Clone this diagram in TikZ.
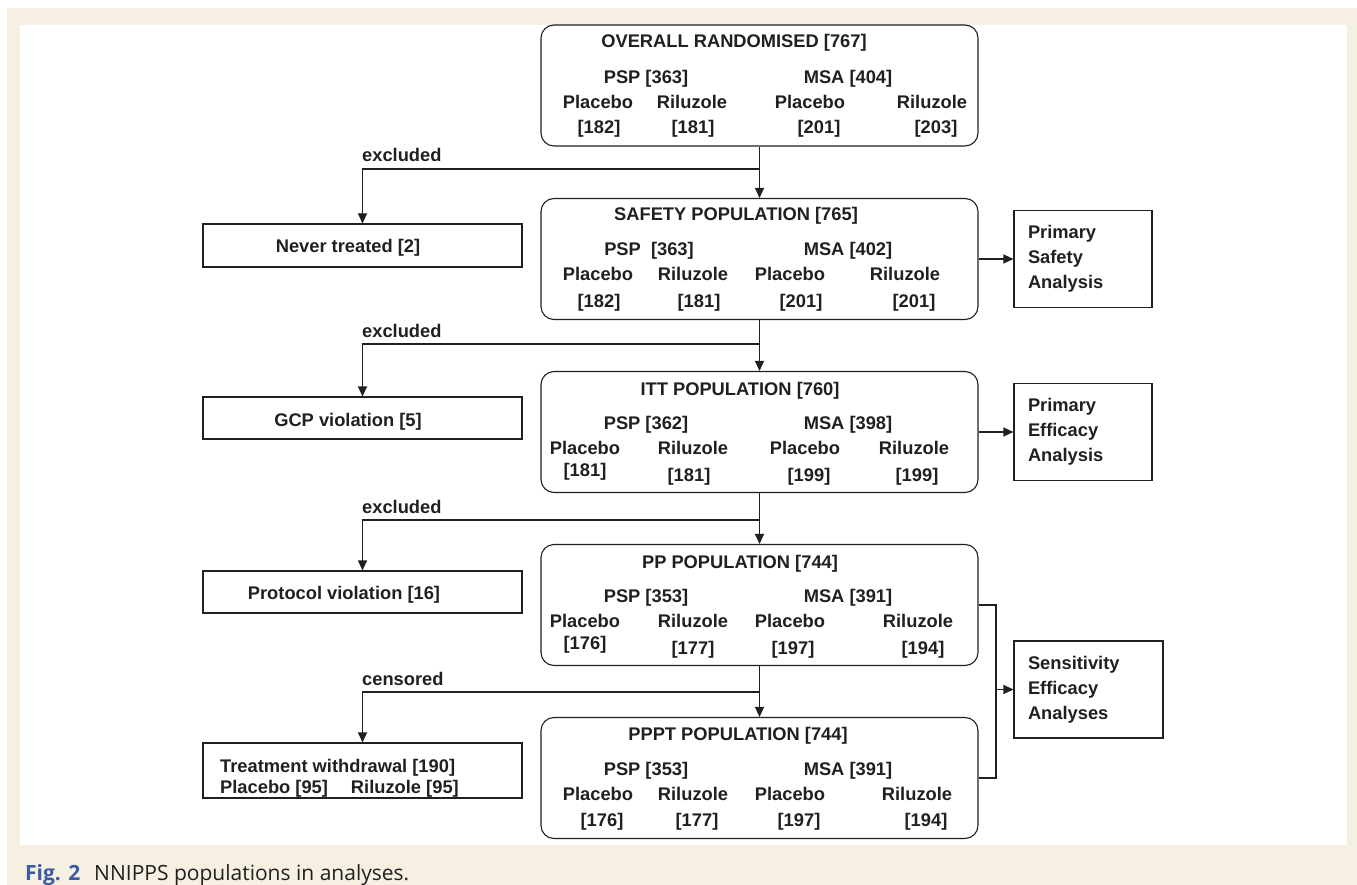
\documentclass[tikz,border=0pt]{standalone}
\usepackage{fontspec}
\setmainfont{Liberation Sans}
\newfontfamily\capfont{Open Sans}
\usetikzlibrary{arrows.meta}
\definecolor{ink}{HTML}{231F20}
\definecolor{paper}{HTML}{F5F0E1}
\definecolor{figblue}{HTML}{3B5BA5}
\tikzstyle{popbox}=[rectangle, draw=ink, rounded corners=13pt, line width=1.1pt, minimum width=437pt, minimum height=121pt]
\tikzstyle{exbox}=[rectangle, draw=ink, line width=1.1pt, minimum width=319pt]
\tikzstyle{anbox}=[rectangle, draw=ink, line width=1.1pt, minimum height=97pt, align=left, inner xsep=14pt, text=ink, font=\fontsize{18.3}{25}\selectfont\bfseries]
\tikzstyle{txt}=[anchor=base, inner sep=0pt, text=ink, font=\fontsize{18.3}{25}\selectfont\bfseries]
\tikzstyle{lab}=[txt, anchor=base west]
\tikzstyle{flow}=[draw=ink, line width=1.1pt, -{Triangle[length=10pt,width=9pt]}]

\begin{document}
\begin{tikzpicture}[x=1pt, y=-1pt]
    \useasboundingbox (0,0) rectangle (1357,885);
    \fill[paper] (7,8) rectangle (1357,885);
    \fill[white] (20,25) rectangle (1347,845);

    \node[popbox] (p1) at (759.5, 85.5) {};
    \node[popbox] (p2) at (759.5, 259) {};
    \node[popbox] (p3) at (759.5, 432) {};
    \node[popbox] (p4) at (759.5, 605) {};
    \node[popbox] (p5) at (759.5, 778) {};

    \node[txt] (t1)  at (734, 48) {OVERALL RANDOMISED [767]};
    \node[txt] (g1a) at (646, 84) {PSP [363]};
    \node[txt] (g1b) at (848, 84) {MSA [404]};
    \node[txt] (a1a) at (598, 109) {Placebo};
    \node[txt] (a1b) at (692, 109) {Riluzole};
    \node[txt] (a1c) at (810, 109) {Placebo};
    \node[txt] (a1d) at (932, 109) {Riluzole};
    \node[txt] (n1a) at (599, 134) {[182]};
    \node[txt] (n1b) at (693, 134) {[181]};
    \node[txt] (n1c) at (819, 134) {[201]};
    \node[txt] (n1d) at (936, 134) {[203]};

    \node[txt] (t2)  at (736, 221) {SAFETY POPULATION [765]};
    \node[txt] (g2a) at (649, 256) {PSP~~[363]};
    \node[txt] (g2b) at (848, 256) {MSA [402]};
    \node[txt] (a2a) at (598, 281) {Placebo};
    \node[txt] (a2b) at (693, 281) {Riluzole};
    \node[txt] (a2c) at (790, 281) {Placebo};
    \node[txt] (a2d) at (905, 281) {Riluzole};
    \node[txt] (n2a) at (599, 308) {[182]};
    \node[txt] (n2b) at (699, 308) {[181]};
    \node[txt] (n2c) at (801, 308) {[201]};
    \node[txt] (n2d) at (914, 308) {[201]};

    \node[txt] (t3)  at (740, 395) {ITT POPULATION [760]};
    \node[txt] (g3a) at (646, 429) {PSP [362]};
    \node[txt] (g3b) at (848, 429) {MSA [398]};
    \node[txt] (a3a) at (585, 454) {Placebo};
    \node[txt] (a3b) at (693, 454) {Riluzole};
    \node[txt] (a3c) at (805, 454) {Placebo};
    \node[txt] (a3d) at (914, 454) {Riluzole};
    \node[txt] (n3a) at (585, 476) {[181]};
    \node[txt] (n3b) at (689, 481) {[181]};
    \node[txt] (n3c) at (809, 481) {[199]};
    \node[txt] (n3d) at (917, 481) {[199]};

    \node[txt] (t4)  at (740, 568) {PP POPULATION [744]};
    \node[txt] (g4a) at (646, 602) {PSP [353]};
    \node[txt] (g4b) at (848, 602) {MSA [391]};
    \node[txt] (a4a) at (585, 627) {Placebo};
    \node[txt] (a4b) at (693, 627) {Riluzole};
    \node[txt] (a4c) at (790, 627) {Placebo};
    \node[txt] (a4d) at (918, 627) {Riluzole};
    \node[txt] (n4a) at (585, 649) {[176]};
    \node[txt] (n4b) at (693, 654) {[177]};
    \node[txt] (n4c) at (793, 654) {[197]};
    \node[txt] (n4d) at (923, 654) {[194]};

    \node[txt] (t5)  at (738, 740) {PPPT POPULATION [744]};
    \node[txt] (g5a) at (646, 775) {PSP [353]};
    \node[txt] (g5b) at (848, 775) {MSA [391]};
    \node[txt] (a5a) at (598, 800) {Placebo};
    \node[txt] (a5b) at (693, 800) {Riluzole};
    \node[txt] (a5c) at (790, 800) {Placebo};
    \node[txt] (a5d) at (917, 800) {Riluzole};
    \node[txt] (n5a) at (602, 826) {[176]};
    \node[txt] (n5b) at (697, 826) {[177]};
    \node[txt] (n5c) at (799, 826) {[197]};
    \node[txt] (n5d) at (926, 826) {[194]};

    \node[exbox, minimum height=43pt] (x1) at (362.5, 245.5) {};
    \node[exbox, minimum height=42pt] (x2) at (362.5, 418) {};
    \node[exbox, minimum height=42pt] (x3) at (362.5, 592) {};
    \node[exbox, minimum height=55pt] (x4) at (362.5, 770.5) {};
    \node[txt] (xt1) at (348, 253) {Never treated [2]};
    \node[txt] (xt2) at (348, 426) {GCP violation [5]};
    \node[txt] (xt3) at (344, 599) {Protocol violation [16]};
    \node[lab] (xt4) at (220, 772) {Treatment withdrawal [190]};
    \node[lab] (xt5) at (220, 793) {Placebo [95]\hspace{23pt}Riluzole [95]};

    \node[lab] (l1) at (362, 162) {excluded};
    \node[lab] (l2) at (362, 337) {excluded};
    \node[lab] (l3) at (362, 513) {excluded};
    \node[lab] (l4) at (362, 685) {censored};

    \node[anbox, text width=110pt] (s1) at (1083, 259) {Primary\\Safety\\Analysis};
    \node[anbox, text width=110pt] (s2) at (1083, 432) {Primary\\Efficacy\\Analysis};
    \node[anbox, text width=121pt] (s3) at (1088.5, 689.5) {Sensitivity\\Efficacy\\Analyses};

    \coordinate (c1) at (759.5, 169);
    \coordinate (c2) at (759.5, 344);
    \coordinate (c3) at (759.5, 520);
    \coordinate (c4) at (759.5, 692);
    \coordinate (b1) at (996, 689.5);

    \draw[flow] (p1) -- (p2);
    \draw[flow] (p2) -- (p3);
    \draw[flow] (p3) -- (p4);
    \draw[flow] (p4) -- (p5);
    \draw[flow] (c1) -| (x1);
    \draw[flow] (c2) -| (x2);
    \draw[flow] (c3) -| (x3);
    \draw[flow] (c4) -| (x4);
    \draw[flow] (p2) -- (s1);
    \draw[flow] (p3) -- (s2);
    \draw[draw=ink, line width=1.1pt] (p4) -| (b1) |- (p5);
    \draw[flow] (b1) -- (s3);

    \node[anchor=base west, inner sep=0pt, text=ink, font=\capfont\fontsize{21}{24}\selectfont] (cap) at (25, 880) {\textcolor{figblue}{\bfseries Fig. 2}\hspace{14pt}NNIPPS populations in analyses.};
\end{tikzpicture}
\end{document}
